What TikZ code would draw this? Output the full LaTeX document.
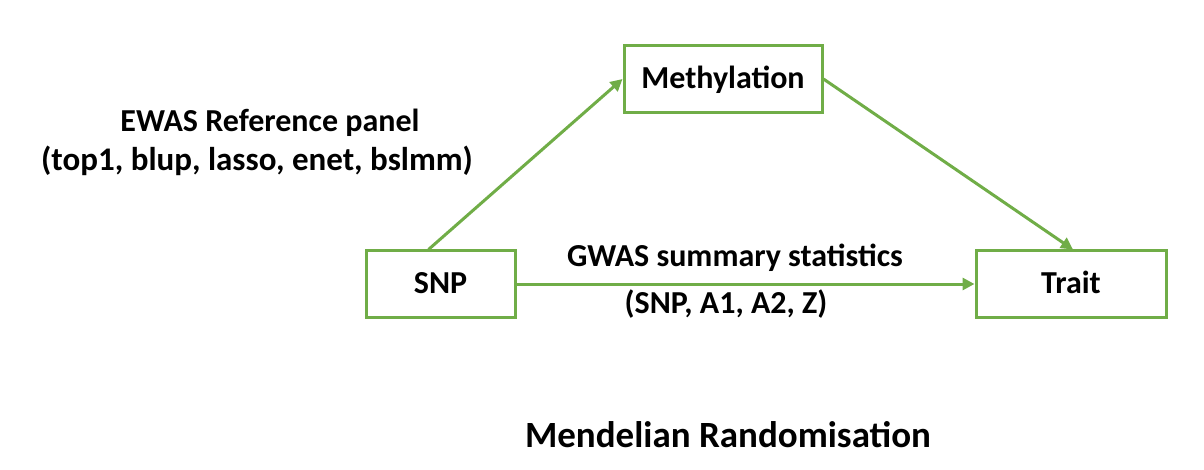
\documentclass[tikz,border=0pt]{standalone}
\usepackage{fontspec}
\setmainfont{Carlito}
\usetikzlibrary{arrows.meta}
\definecolor{grn}{HTML}{70AD47}
\begin{document}
\begin{tikzpicture}[x=1pt,y=-1pt,
  box/.style={draw=grn, line width=3pt, inner sep=0pt, text height=20pt, text depth=0pt, font=\fontsize{32}{38}\selectfont\bfseries},
  lbl/.style={inner sep=0pt, anchor=base, font=\fontsize{32}{38}\selectfont\bfseries},
  conn/.style={draw=grn, line width=3pt, -{Triangle[length=12pt,width=12pt]}}]
\useasboundingbox (0,0) rectangle (1204,470);
\node[box, minimum width=149pt, minimum height=66pt] (snp) at (440.5,284) {SNP};
\node[box, minimum width=198pt, minimum height=67pt] (meth) at (723,79) {Methylation};
\node[box, minimum width=190pt, minimum height=66pt] (trait) at (1071,284) {Trait};
\draw[conn] ([xshift=-12pt]snp.north) -- (meth.west);
\draw[conn] (meth.east) -- ([xshift=2pt]trait.north);
\draw[conn] (snp.east) -- (trait.west);
\node[lbl] (ewas) at (270,132) {EWAS Reference panel};
\node[lbl, font=\fontsize{33}{38}\selectfont\bfseries] (methods) at (257,171) {(top1, blup, lasso, enet, bslmm)};
\node[lbl] (gwas) at (735,267) {GWAS summary statistics};
\node[lbl] (cols) at (726,313) {(SNP, A1, A2, Z)};
\node[inner sep=0pt, anchor=base, font=\fontsize{37}{44}\selectfont\bfseries] (title) at (728,447) {Mendelian Randomisation};
\end{tikzpicture}
\end{document}
